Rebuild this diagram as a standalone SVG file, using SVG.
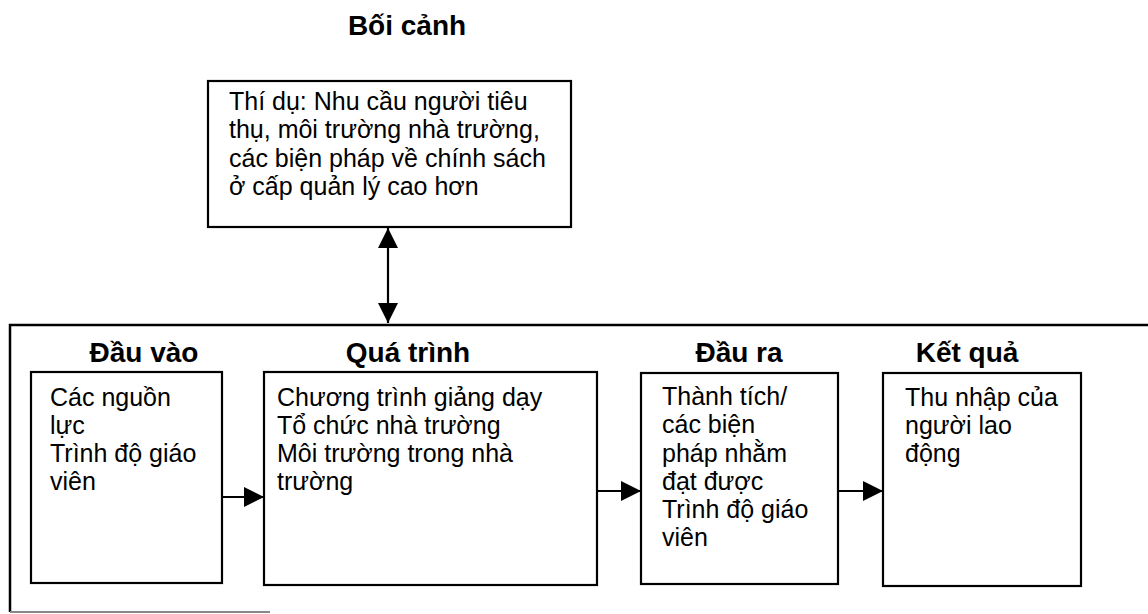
<svg xmlns="http://www.w3.org/2000/svg" width="1148" height="614" viewBox="0 0 1148 614">
<style>
.box{fill:#fff;stroke:#000;stroke-width:2.2}
.frame{fill:none;stroke:#000;stroke-width:2.5}
.head{font-family:"Liberation Sans",Arial,sans-serif;font-weight:bold;font-size:28px;fill:#000}
.body{font-family:"Liberation Sans",Arial,sans-serif;font-size:25px;fill:#000}
.conn{stroke:#000;stroke-width:2.2;fill:none}
</style>
<defs>
<marker id="ah" markerUnits="userSpaceOnUse" markerWidth="20" markerHeight="20" refX="20" refY="10" orient="auto-start-reverse">
<path d="M0,0 L20,10 L0,20 z" fill="#000"/>
</marker>
</defs>
<rect width="1148" height="614" fill="#fff"/>
<g id="frame">
<path class="frame" d="M1148,325 L10,325 L10,612"/>
<line x1="10" y1="612" x2="270" y2="612" stroke="#888" stroke-width="2"/>
</g>
<g id="title">
<text class="head" x="407" y="35" text-anchor="middle">Bối cảnh</text>
</g>
<g id="context">
<rect class="box" x="208" y="81" width="363" height="146"/>
<text class="body" x="229" y="110">Thí dụ: Nhu cầu người tiêu</text>
<text class="body" x="229" y="138">thụ, môi trường nhà trường,</text>
<text class="body" x="229" y="167">các biện pháp về chính sách</text>
<text class="body" x="229" y="195">ở cấp quản lý cao hơn</text>
</g>
<g id="input">
<text class="head" x="144" y="362" text-anchor="middle">Đầu vào</text>
<rect class="box" x="31" y="372" width="191" height="211"/>
<text class="body" x="50" y="406">Các nguồn</text>
<text class="body" x="50" y="434">lực</text>
<text class="body" x="50" y="462">Trình độ giáo</text>
<text class="body" x="50" y="490">viên</text>
</g>
<g id="process">
<text class="head" x="408" y="362" text-anchor="middle">Quá trình</text>
<rect class="box" x="264" y="372" width="333" height="213"/>
<text class="body" x="277" y="406">Chương trình giảng dạy</text>
<text class="body" x="277" y="434">Tổ chức nhà trường</text>
<text class="body" x="277" y="462">Môi trường trong nhà</text>
<text class="body" x="277" y="490">trường</text>
</g>
<g id="output">
<text class="head" x="739" y="362" text-anchor="middle">Đầu ra</text>
<rect class="box" x="641" y="373" width="197" height="211"/>
<text class="body" x="662" y="405">Thành tích/</text>
<text class="body" x="662" y="433">các biện</text>
<text class="body" x="662" y="462">pháp nhằm</text>
<text class="body" x="662" y="490">đạt được</text>
<text class="body" x="662" y="518">Trình độ giáo</text>
<text class="body" x="662" y="546">viên</text>
</g>
<g id="outcome">
<text class="head" x="967" y="362" text-anchor="middle">Kết quả</text>
<rect class="box" x="883" y="373" width="198" height="213"/>
<text class="body" x="905" y="406">Thu nhập của</text>
<text class="body" x="905" y="434">người lao</text>
<text class="body" x="905" y="462">động</text>
</g>
<g id="connectors">
<line class="conn" x1="388" y1="228" x2="388" y2="323" marker-start="url(#ah)" marker-end="url(#ah)"/>
<line class="conn" x1="222" y1="497" x2="264" y2="497" marker-end="url(#ah)"/>
<line class="conn" x1="597" y1="491" x2="641" y2="491" marker-end="url(#ah)"/>
<line class="conn" x1="838" y1="491" x2="883" y2="491" marker-end="url(#ah)"/>
</g>
</svg>
